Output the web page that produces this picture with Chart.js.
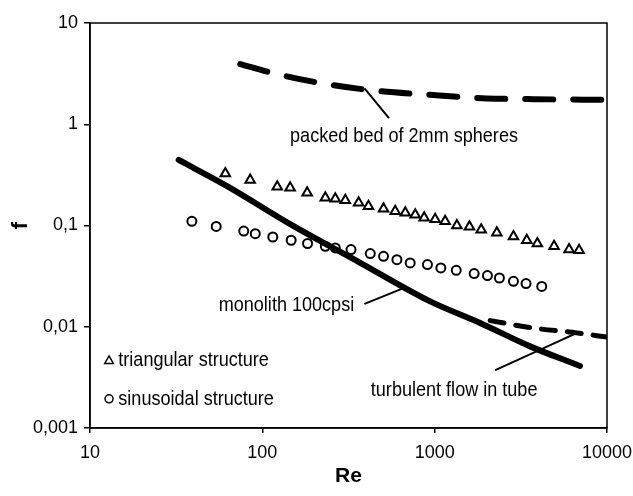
<!DOCTYPE html>
<html><head><meta charset="utf-8">
<script src="https://cdn.jsdelivr.net/npm/chart.js@4.4.1/dist/chart.umd.min.js"></script>
<style>html,body{margin:0;padding:0;background:#fff}</style>
</head><body>
<canvas id="c" width="633" height="496"></canvas>
<script>
// values (Re, f)
const triRe = [61, 85, 122, 145, 182, 232, 265, 303, 362, 413, 505, 590, 675, 771, 869, 1006, 1150, 1345, 1592, 1862, 2295, 2866, 3423, 3943, 4929, 6026, 6885];
const triF = [0.327, 0.281, 0.242, 0.236, 0.211, 0.188, 0.184, 0.178, 0.168, 0.155, 0.146, 0.138, 0.134, 0.128, 0.119, 0.115, 0.110, 0.100, 0.097, 0.091, 0.085, 0.078, 0.0715, 0.0664, 0.0624, 0.0578, 0.0569];
const sinRe = [39, 54, 78, 91, 115, 147, 183, 232, 265, 327, 423, 505, 604, 721, 908, 1086, 1334, 1695, 2024, 2375, 2866, 3390, 4181];
const sinF = [0.110, 0.098, 0.088, 0.083, 0.077, 0.0715, 0.0664, 0.0624, 0.0601, 0.0578, 0.0528, 0.0496, 0.046, 0.0427, 0.0411, 0.0381, 0.0361, 0.0335, 0.032, 0.0303, 0.0281, 0.0267, 0.025];
const monoRe = [32.7, 62.4, 152, 370, 942, 1836, 3580, 6970];
const monoF = [0.444, 0.245, 0.0985, 0.0428, 0.0178, 0.0109, 0.0064, 0.0041];
const turbRe = [2099, 3742, 6668, 10000];
const turbF = [0.0115, 0.0097, 0.0087, 0.0079];
const bedRe = [74.5, 111, 207, 405, 984, 2010, 3742, 10000];
const bedF = [3.93, 3.25, 2.59, 2.19, 1.94, 1.80, 1.77, 1.74];

// leader lines from labels to curves
const bedLeadRe = [395, 540], bedLeadF = [2.22, 1.165];
const monoLeadRe = [395, 649], monoLeadF = [0.0169, 0.0238];
const turbLeadRe = [2264, 6668], turbLeadF = [0.00375, 0.00867];

const xTicks = [10, 100, 1000, 10000];
const xTickLabels = ['10', '100', '1000', '10000'];
const yTicks = [0.001, 0.01, 0.1, 1, 10];
const yTickLabels = ['0,001', '0,01', '0,1', '1', '10'];

const noteText = ['packed bed of 2mm spheres', 'monolith 100cpsi', 'turbulent flow in tube'];
const noteRe = [664, 138, 1297];
const noteF = [0.766, 0.0165, 0.00238];

const legText = ['triangular structure', 'sinusoidal structure'];
const legStyle = ['triangle', 'circle'];
const legRe = [12.9, 14.6];
const legF = [0.0047, 0.00194];

const FONT = "'Liberation Sans', Arial, sans-serif";
const pts = (xs, ys) => xs.map((v, i) => ({x: v, y: ys[i]}));

const lineDs = (xs, ys, w, dash) => ({
  data: pts(xs, ys), showLine: true, pointRadius: 0, borderColor: '#000',
  borderWidth: w, borderDash: dash || [], borderCapStyle: 'round', cubicInterpolationMode: 'monotone'
});

// text squeezed sideways like the original's narrow lettering
function narrowText(ctx, t, px, py, align){
  const sx = 0.86;
  ctx.save();
  ctx.translate(px, py); ctx.scale(sx, 1);
  ctx.textAlign = align;
  ctx.fillText(t, 0, 0);
  ctx.restore();
}

const notes = {
  id: 'notes',
  afterDatasetsDraw(chart){
    const {ctx, scales: {x, y}, chartArea: a} = chart;
    ctx.save();
    ctx.strokeStyle = '#000'; ctx.lineWidth = 1.5;
    ctx.strokeRect(a.left, a.top, a.right - a.left, a.bottom - a.top);
    ctx.fillStyle = '#000'; ctx.font = '21px ' + FONT; ctx.textBaseline = 'middle';
    noteText.forEach((t, i) => narrowText(ctx, t, x.getPixelForValue(noteRe[i]), y.getPixelForValue(noteF[i]), 'center'));
    legText.forEach((t, i) => {
      const px = x.getPixelForValue(legRe[0]), py = y.getPixelForValue(legF[i]);
      narrowText(ctx, t, x.getPixelForValue(legRe[1]), py, 'left');
      ctx.save(); ctx.fillStyle = '#fff'; ctx.strokeStyle = '#000';
      Chart.helpers.drawPoint(ctx, {pointStyle: legStyle[i], radius: legStyle[i] === 'triangle' ? 5 : 4, borderWidth: 1.5}, px, py + (legStyle[i] === 'triangle' ? 1 : 0));
      ctx.restore();
    });
    ctx.restore();
  }
};

new Chart(document.getElementById('c'), {
  type: 'scatter',
  data: { datasets: [
    lineDs(bedRe, bedF, 6, [28, 20]),
    lineDs(monoRe, monoF, 6),
    lineDs(turbRe, turbF, 5, [14, 12]),
    lineDs(bedLeadRe, bedLeadF, 2),
    lineDs(monoLeadRe, monoLeadF, 2),
    lineDs(turbLeadRe, turbLeadF, 2),
    { data: pts(triRe, triF), pointStyle: 'triangle', pointRadius: 5.5, borderColor: '#000', backgroundColor: 'rgba(0,0,0,0)', borderWidth: 2 },
    { data: pts(sinRe, sinF), pointStyle: 'circle', pointRadius: 4.5, borderColor: '#000', backgroundColor: 'rgba(0,0,0,0)', borderWidth: 2 }
  ]},
  options: {
    responsive: false, animation: false, devicePixelRatio: 1,
    layout: { padding: { top: 23, right: 26, left: 0, bottom: 0 } },
    plugins: { legend: { display: false }, tooltip: { enabled: false } },
    scales: {
      x: {
        type: 'logarithmic', min: 10, max: 10000,
        afterBuildTicks: s => { s.ticks = xTicks.map(v => ({value: v})); },
        afterFit: s => { s.height = 68; s.paddingLeft = 0; s.paddingRight = 0; },
        ticks: { callback: (v, i) => xTickLabels[i], color: '#000', font: {family: FONT, size: 18}, padding: 9, maxRotation: 0 },
        grid: { drawOnChartArea: false, color: '#000', tickLength: 5, lineWidth: 1.5 },
        border: { color: '#000', width: 1.5 },
        title: { display: true, text: 'Re', color: '#000', font: {family: FONT, size: 21, weight: 'bold'}, padding: {top: 2, bottom: 7} }
      },
      y: {
        type: 'logarithmic', min: 0.001, max: 10,
        afterBuildTicks: s => { s.ticks = yTicks.map(v => ({value: v})); },
        afterFit: s => { s.width = 90; s.paddingTop = 0; s.paddingBottom = 0; },
        ticks: { callback: (v, i) => yTickLabels[i], color: '#000', font: {family: FONT, size: 18}, padding: 6 },
        grid: { drawOnChartArea: false, color: '#000', tickLength: 6, lineWidth: 1.5 },
        border: { color: '#000', width: 1.5 },
        title: { display: true, text: 'f', color: '#000', font: {family: FONT, size: 22, weight: 'bold'}, padding: {top: 8, bottom: 0} }
      }
    }
  },
  plugins: [notes]
});
</script></body></html>
